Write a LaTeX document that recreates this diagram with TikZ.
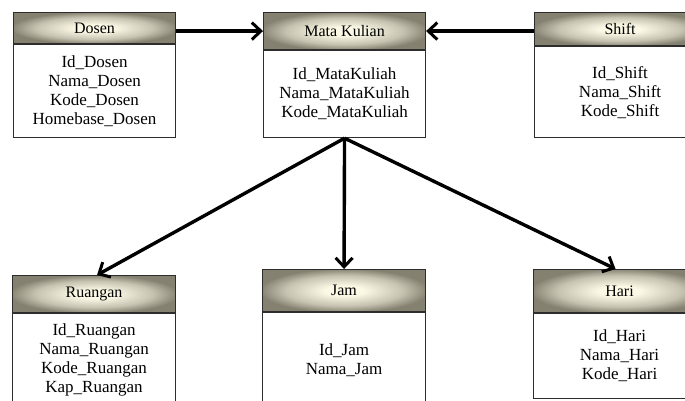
\documentclass[tikz,border=0pt]{standalone}
\usepackage{fontspec}
\setmainfont{Liberation Serif}
\usetikzlibrary{arrows.meta}
\definecolor{hdrout}{RGB}{132,129,112}
\definecolor{hdrin}{RGB}{252,248,230}
\definecolor{boxline}{RGB}{45,45,45}
\pgfdeclareradialshading{hdrshade}{\pgfpoint{0bp}{0bp}}{color(0bp)=(hdrin); color(6bp)=(hdrin); color(18bp)=(hdrin!55!hdrout); color(26bp)=(hdrout); color(50bp)=(hdrout)}
\tikzset{
 hdr/.style={draw=boxline, line width=1.1pt, shading=hdrshade, anchor=north west, font=\fontsize{16}{18}\selectfont, inner sep=0pt},
 bodybox/.style={draw=boxline, line width=1.1pt, fill=white, anchor=north, align=center, font=\fontsize{17}{19}\selectfont, inner sep=0pt},
 rel/.style={line width=3.4pt, -{Straight Barb[length=9pt,width=17pt,line width=3pt]}}
}
\begin{document}
\begin{tikzpicture}[x=1pt,y=-1pt]
\useasboundingbox (0,0) rectangle (685,400);
\clip (0,0) rectangle (685,400);
% Dosen
\node[hdr, minimum width=162pt, minimum height=31pt] (dosenH) at (13,12) {Dosen};
\node[bodybox, minimum width=162pt, minimum height=93pt] (dosenB) at (dosenH.south) {Id\_Dosen\\Nama\_Dosen\\Kode\_Dosen\\Homebase\_Dosen};
% Mata Kuliah
\node[hdr, minimum width=162pt, minimum height=37pt] (mkH) at (263,12) {Mata Kulian};
\node[bodybox, minimum width=162pt, minimum height=87pt] (mkB) at (mkH.south) {Id\_MataKuliah\\Nama\_MataKuliah\\Kode\_MataKuliah};
% Shift
\node[hdr, minimum width=171pt, minimum height=33pt] (shiftH) at (534,12) {Shift};
\node[bodybox, minimum width=171pt, minimum height=91pt] (shiftB) at (shiftH.south) {Id\_Shift\\Nama\_Shift\\Kode\_Shift};
% Ruangan
\node[hdr, minimum width=163pt, minimum height=37pt] (ruangH) at (12,275) {Ruangan};
\node[bodybox, minimum width=163pt, minimum height=93pt] (ruangB) at (ruangH.south) {Id\_Ruangan\\Nama\_Ruangan\\Kode\_Ruangan\\Kap\_Ruangan};
% Jam
\node[hdr, minimum width=163pt, minimum height=42pt] (jamH) at (262,269) {Jam};
\node[bodybox, minimum width=163pt, minimum height=95pt] (jamB) at (jamH.south) {Id\_Jam\\Nama\_Jam};
% Hari
\node[hdr, minimum width=172pt, minimum height=43pt] (hariH) at (533,269) {Hari};
\node[bodybox, minimum width=172pt, minimum height=85pt] (hariB) at (hariH.south) {Id\_Hari\\Nama\_Hari\\Kode\_Hari};
% Relations
\draw[rel] (dosenH.east |- mkH.west) -- (mkH.west);
\draw[rel] (shiftH.west |- mkH.east) -- (mkH.east);
\coordinate (src) at (mkB.south);
\draw[rel] (src) -- ([xshift=3pt]ruangH.north);
\draw[rel] (src) -- (jamH.north);
\draw[rel] (src) -- ([xshift=-4pt]hariH.north);
\end{tikzpicture}
\end{document}
